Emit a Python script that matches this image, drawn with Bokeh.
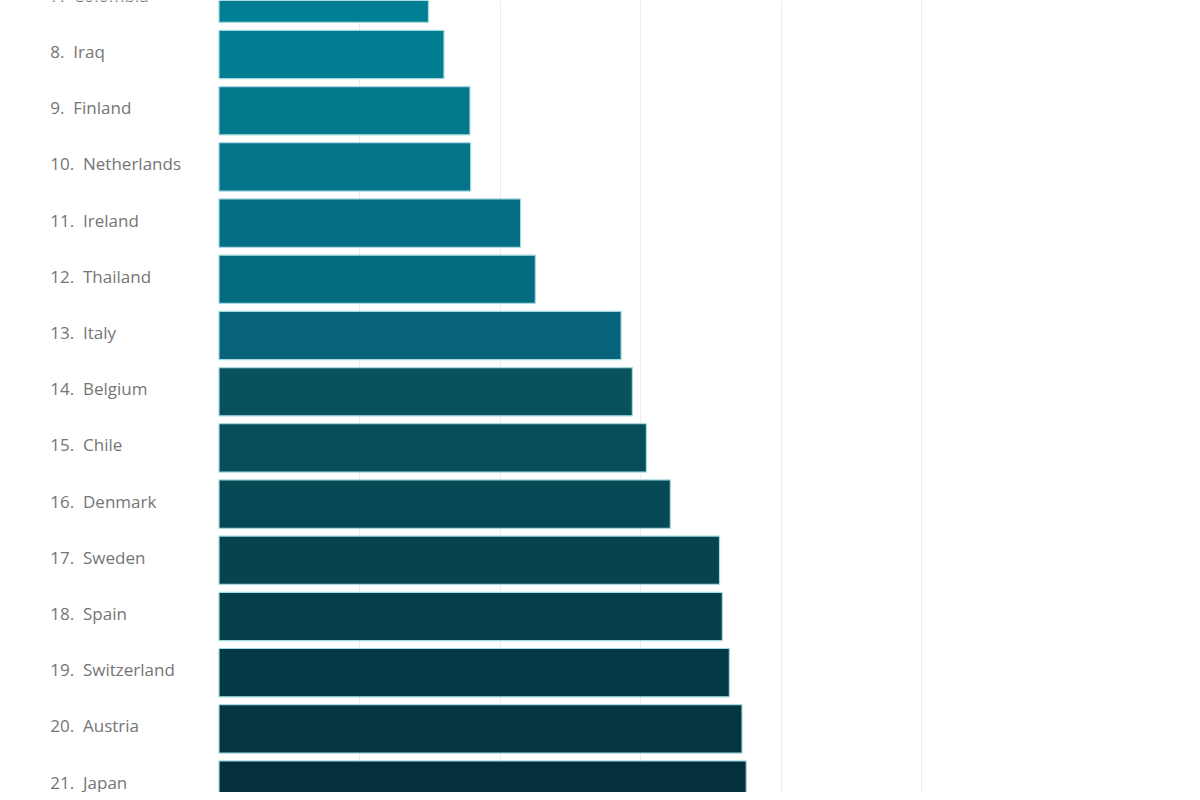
from bokeh.plotting import figure
from bokeh.models import Range1d, FixedTicker, ColumnDataSource
from bokeh.core.properties import value
from bokeh.embed import file_html
from bokeh.resources import INLINE

ranks = [7, 8, 9, 10, 11, 12, 13, 14, 15, 16, 17, 18, 19, 20, 21]
countries = ["Colombia", "Iraq", "Finland", "Netherlands", "Ireland", "Thailand",
             "Italy", "Belgium", "Chile", "Denmark", "Sweden", "Spain",
             "Switzerland", "Austria", "Japan"]
values = [14.9, 16.0, 17.85, 17.9, 21.45, 22.5, 28.6, 29.4, 30.4, 32.1,
          35.6, 35.8, 36.3, 37.2, 37.5]
colors = ["#007f93", "#017c90", "#02788c", "#037489", "#046f84", "#056b80",
          "#06637a", "#08525e", "#074e5a", "#064854", "#05434f", "#053f4a",
          "#043a45", "#043540", "#03303a"]
labels = [f"{r}.\u00a0\u00a0{c}" for r, c in zip(ranks, countries)]

src = ColumnDataSource(dict(rank=ranks, val=values, color=colors, label=labels,
                            lx=[-12.0] * len(ranks)))

p = figure(width=1192, height=792, output_backend="svg", toolbar_location=None,
           x_range=Range1d(-15.54, 69.24), y_range=Range1d(21.132, 7.039),
           min_border=0, outline_line_color=None)
p.xaxis.visible = False
p.yaxis.visible = False
p.ygrid.visible = False
p.xgrid.ticker = FixedTicker(ticks=[10, 20, 30, 40, 50])
p.xgrid.grid_line_color = "#ececec"
p.xgrid.grid_line_width = 1

p.hbar(y="rank", right="val", left=0, height=0.86, fill_color="color",
       line_color="#a6d9e0", line_width=1.2, source=src)
p.text(x="lx", y="rank", text="label", source=src, text_color="#757575",
       text_font=value("Open Sans"), text_font_size="17px",
       text_baseline="middle", text_align="left", y_offset=-3)

open("out.html", "w").write(file_html(p, INLINE))
